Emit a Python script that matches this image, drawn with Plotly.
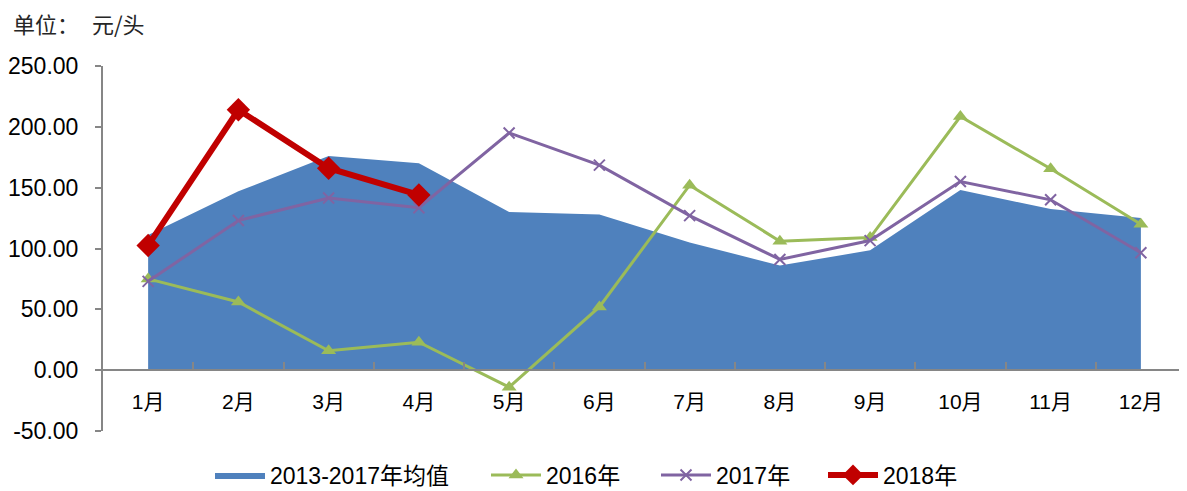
import plotly.graph_objects as go

months = ["1月", "2月", "3月", "4月", "5月", "6月", "7月", "8月", "9月", "10月", "11月", "12月"]
avg_2013_2017 = [111, 147, 176, 170, 130, 128, 105, 86, 98.5, 148, 132.5, 125]
y2016 = [75, 56, 16, 23, -14, 52, 152, 106, 109, 208.5, 165.5, 120]
y2017 = [73, 123, 141.5, 133.5, 195, 168.5, 127, 91, 106.5, 155, 140, 96.5]
y2018 = [102.5, 214, 166, 144]

y_ticks = [-50, 0, 50, 100, 150, 200, 250]
y_ticktext = [f"{v:.2f}" for v in y_ticks]

font_main = "Liberation Sans, Arial, Noto Sans CJK SC, sans-serif"
axis_color = "#868686"

# page body has an 8px default margin, so the figure is offset by 8px
W, H = 1179, 483
L, R, T, B = 95, 1, 58, 60

fig = go.Figure()

fig.add_trace(go.Scatter(
    x=months, y=avg_2013_2017, name="2013-2017年均值", legend="legend",
    mode="lines", fill="tozeroy", fillcolor="#4F81BD",
    line=dict(color="#4F81BD", width=0),
))
fig.add_trace(go.Scatter(
    x=months, y=y2016, name="2016年", legend="legend2",
    mode="lines+markers", line=dict(color="#9BBB59", width=3),
    marker=dict(symbol="triangle-up", size=13, color="#9BBB59"),
))
fig.add_trace(go.Scatter(
    x=months, y=y2017, name="2017年", legend="legend3",
    mode="lines+markers", line=dict(color="#8064A2", width=3),
    marker=dict(symbol="x-thin", size=11, color="#8064A2",
                line=dict(color="#8064A2", width=2)),
))
fig.add_trace(go.Scatter(
    x=months[:len(y2018)], y=y2018, name="2018年", legend="legend4",
    mode="lines+markers", line=dict(color="#C00000", width=6),
    marker=dict(symbol="diamond", size=18, color="#C00000"),
))


def legend_at(px):
    return dict(
        orientation="h", x=px / W, xanchor="left", xref="container",
        y=(H - 467) / H, yanchor="middle", yref="container",
        font=dict(size=23, family=font_main), itemwidth=50,
        bgcolor="rgba(0,0,0,0)",
    )


def title_piece(text, px):
    return dict(
        text=text,
        x=(px - L) / (W - L - R), xref="paper", xanchor="left",
        y=(H - B - 15) / (H - T - B), yref="paper", yanchor="middle",
        borderpad=0,
        showarrow=False,
        font=dict(size=22, family="Noto Sans CJK SC, sans-serif", color="#262626"),
    )


fig.update_layout(
    width=W, height=H,
    margin=dict(l=L, r=R, t=T, b=B, autoexpand=False),
    paper_bgcolor="white", plot_bgcolor="white",
    font=dict(family=font_main, size=20, color="black"),
    showlegend=True,
    legend=legend_at(202),
    legend2=legend_at(478),
    legend3=legend_at(648),
    legend4=legend_at(815),
    xaxis=dict(
        type="category", range=[-0.5, 11.5], automargin=False,
        anchor="free", position=50 / 300,
        showline=True, linecolor=axis_color, linewidth=2,
        ticks="inside", tickson="boundaries", ticklen=7, tickcolor=axis_color, tickwidth=2,
        ticklabelstandoff=13,
        showgrid=False, zeroline=False,
        tickfont=dict(size=21, family=font_main),
    ),
    yaxis=dict(
        range=[-50, 250], tickvals=y_ticks, ticktext=y_ticktext, automargin=False,
        showline=True, linecolor=axis_color, linewidth=2,
        ticks="outside", ticklen=6, tickcolor=axis_color, tickwidth=2,
        ticklabelstandoff=12,
        showgrid=False, zeroline=False,
        tickfont=dict(size=23, family=font_main),
    ),
    annotations=[title_piece("单位：", 4), title_piece("元/头", 83)],
)

fig.write_html("out.html")
